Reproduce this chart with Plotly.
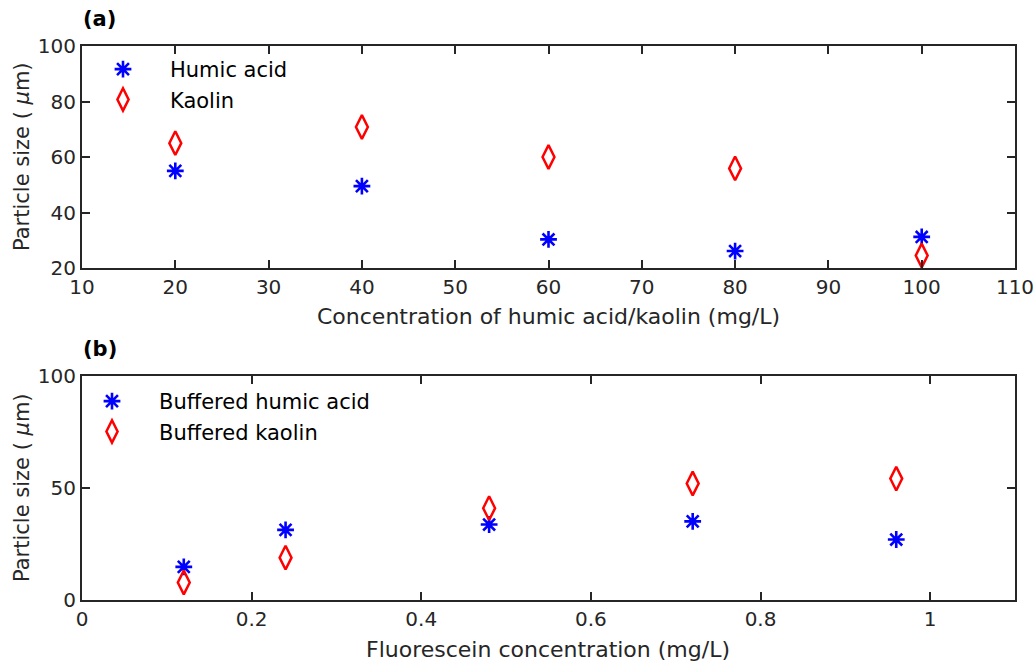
import plotly.graph_objects as go

# Panel (a)
conc_a = [20, 40, 60, 80, 100]
humic_a = [55, 49.5, 30.3, 26.1, 31.2]
kaolin_a = [65, 70.8, 60, 55.9, 24.5]

# Panel (b)
conc_b = [0.12, 0.24, 0.48, 0.72, 0.96]
humic_b = [14.8, 31.3, 33.7, 35.1, 27]
kaolin_b = [7.8, 18.9, 41, 52, 54.2]

W, H = 1035, 663
AX = "#262626"
FONT = "DejaVu Sans"
TICK = 20

def px_x(p):
    return p / W

def px_y(p):
    return 1 - p / H

fig = go.Figure()

ast = dict(symbol="asterisk-open", size=14, color="#0000FF", line=dict(color="#0000FF", width=2.6))
dia = dict(symbol="diamond-tall-open", size=17, color="#FF0000", line=dict(color="#FF0000", width=2.5))

fig.add_trace(go.Scatter(x=conc_a, y=humic_a, mode="markers", name="Humic acid",
                         marker=ast, xaxis="x", yaxis="y", legend="legend"))
fig.add_trace(go.Scatter(x=conc_a, y=kaolin_a, mode="markers", name="Kaolin",
                         marker=dia, xaxis="x", yaxis="y", legend="legend"))
fig.add_trace(go.Scatter(x=conc_b, y=humic_b, mode="markers", name="Buffered humic acid",
                         marker=ast, xaxis="x2", yaxis="y2", legend="legend2"))
fig.add_trace(go.Scatter(x=conc_b, y=kaolin_b, mode="markers", name="Buffered kaolin",
                         marker=dia, xaxis="x2", yaxis="y2", legend="legend2"))

axcommon = dict(showline=True, linecolor=AX, linewidth=2, mirror="allticks",
                ticks="inside", ticklen=8, tickwidth=2, tickcolor=AX,
                showgrid=False, zeroline=False, automargin=False,
                tickfont=dict(family=FONT, size=TICK, color=AX))

xd = [px_x(82), px_x(1015)]

legfont = dict(family=FONT, size=21, color="black")

fig.update_layout(
    width=W, height=H,
    margin=dict(l=0, r=0, t=0, b=0, autoexpand=False),
    paper_bgcolor="white", plot_bgcolor="white",
    font=dict(family=FONT, color=AX),
    xaxis=dict(domain=xd, range=[10, 110], tickvals=list(range(10, 111, 10)),
               anchor="y", **axcommon),
    yaxis=dict(domain=[px_y(268), px_y(46)], range=[20, 100], tickvals=[20, 40, 60, 80, 100],
               anchor="x", **axcommon),
    xaxis2=dict(domain=xd, range=[0, 1.1], tickvals=[0, 0.2, 0.4, 0.6, 0.8, 1],
                ticktext=["0", "0.2", "0.4", "0.6", "0.8", "1"], anchor="y2", **axcommon),
    yaxis2=dict(domain=[px_y(600), px_y(376)], range=[0, 100], tickvals=[0, 50, 100],
                anchor="x2", **axcommon),
    legend=dict(x=px_x(76), y=px_y(49), xanchor="left", yanchor="top",
                bgcolor="rgba(255,255,255,0)", borderwidth=0,
                font=legfont, itemwidth=84, tracegroupgap=0),
    legend2=dict(x=px_x(65), y=px_y(381), xanchor="left", yanchor="top",
                 bgcolor="rgba(255,255,255,0)", borderwidth=0,
                 font=legfont, itemwidth=84, tracegroupgap=0),
    showlegend=True,
    annotations=[
        dict(text="<b>(a)</b>", x=px_x(81), y=px_y(19), xref="paper", yref="paper",
             xanchor="left", yanchor="middle", showarrow=False,
             font=dict(family=FONT, size=21, color="black")),
        dict(text="<b>(b)</b>", x=px_x(81), y=px_y(349), xref="paper", yref="paper",
             xanchor="left", yanchor="middle", showarrow=False,
             font=dict(family=FONT, size=21, color="black")),
        dict(text="Concentration of humic acid/kaolin (mg/L)", x=px_x(548), y=px_y(316),
             xref="paper", yref="paper", xanchor="center", yanchor="middle", showarrow=False,
             font=dict(family=FONT, size=22, color=AX)),
        dict(text="Fluorescein concentration (mg/L)", x=px_x(548), y=px_y(649),
             xref="paper", yref="paper", xanchor="center", yanchor="middle", showarrow=False,
             font=dict(family=FONT, size=22, color=AX)),
        dict(text="Particle size ( <i>μ</i>m)", x=px_x(22), y=px_y(157), textangle=-90,
             xref="paper", yref="paper", xanchor="center", yanchor="middle", showarrow=False,
             font=dict(family=FONT, size=21, color=AX)),
        dict(text="Particle size ( <i>μ</i>m)", x=px_x(22), y=px_y(488), textangle=-90,
             xref="paper", yref="paper", xanchor="center", yanchor="middle", showarrow=False,
             font=dict(family=FONT, size=21, color=AX)),
    ],
)

fig.write_html("out.html")
